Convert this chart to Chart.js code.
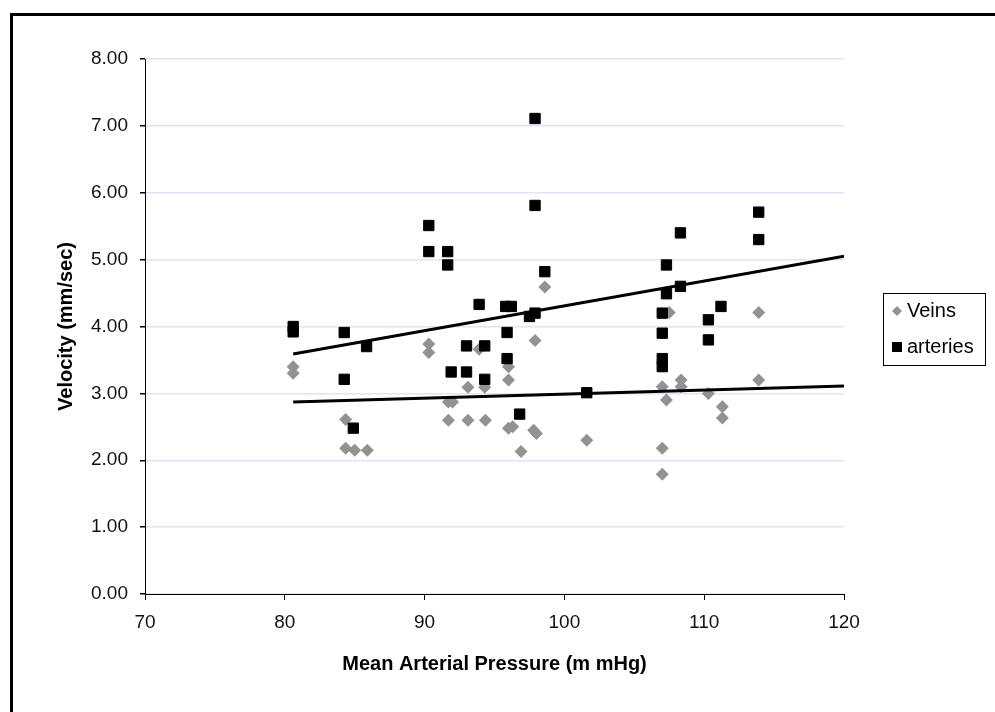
<!DOCTYPE html>
<html>
<head>
<meta charset="utf-8">
<title>Velocity vs Mean Arterial Pressure</title>
<script src="https://cdn.jsdelivr.net/npm/chart.js@4.4.1/dist/chart.umd.min.js"></script>
<style>
    html, body { margin: 0; padding: 0; background: #fff; }
    #wrap { position: relative; width: 995px; height: 712px; overflow: hidden; }
    #frame {
        position: absolute; left: 10px; top: 13px; width: 1000px; height: 720px;
        border-top: 3px solid #000; border-left: 3px solid #000;
    }
    #chart { position: absolute; left: 0; top: 0; }
</style>
</head>
<body>
<div id="wrap">
    <div id="frame"></div>
    <canvas id="chart" width="995" height="712"></canvas>
</div>
<script>
// Dados
const veinsX = [80.6, 80.6, 84.35, 84.35, 85.0, 85.9, 90.3, 90.3, 91.7, 92.0, 91.7, 93.1, 93.1, 93.9, 94.3, 94.35,
    96.0, 96.0, 96.0, 96.3, 96.9, 97.8, 98.0, 97.9, 98.6, 101.6, 107.0, 107.3, 107.0, 107.0, 107.5,
    108.35, 108.35, 110.3, 111.3, 111.3, 113.9, 113.9];
const veinsY = [3.40, 3.30, 2.61, 2.18, 2.15, 2.15, 3.74, 3.61, 2.87, 2.87, 2.60, 3.09, 2.60, 3.66, 3.09, 2.60,
    3.40, 3.20, 2.48, 2.50, 2.13, 2.45, 2.40, 3.79, 4.59, 2.30, 3.10, 2.90, 2.18, 1.79, 4.21,
    3.20, 3.10, 3.00, 2.80, 2.63, 4.21, 3.20];

const arteriesX = [80.6, 80.6, 84.25, 84.25, 84.9, 85.85, 90.3, 90.3, 91.65, 91.65, 91.9, 93.0, 93.0, 93.9, 94.3, 94.3,
    95.8, 96.2, 95.9, 95.9, 96.8, 97.5, 97.9, 97.9, 97.9, 98.6, 101.6, 107.0, 107.0, 107.0, 107.0,
    107.3, 107.3, 108.3, 108.3, 110.3, 110.3, 111.2, 113.9, 113.9];
const arteriesY = [4.00, 3.92, 3.91, 3.21, 2.48, 3.70, 5.51, 5.12, 5.12, 4.92, 3.32, 3.71, 3.32, 4.33, 3.71, 3.21,
    4.30, 4.30, 3.91, 3.52, 2.69, 4.15, 4.20, 5.81, 7.11, 4.82, 3.01, 4.20, 3.90, 3.52, 3.40,
    4.92, 4.49, 5.40, 4.60, 4.10, 3.80, 4.30, 5.71, 5.30];

// Linhas de tendência (extremos)
const trendX = [80.6, 120];
const veinsTrendY = [2.87, 3.11];
const arteriesTrendY = [3.59, 5.05];

const xMin = 70, xMax = 120, xStep = 10;
const yMin = 0, yMax = 8, yStep = 1;

const VEIN_COLOR = '#929292';
const GRID_COLOR = '#e2e2f8';
const FONT = '"Liberation Sans", Arial, sans-serif';

function toPoints(xs, ys) {
    return xs.map((x, i) => ({ x: x, y: ys[i] }));
}

// Legenda desenhada à mão, com caixa
const legendBox = {
    id: 'legendBox',
    afterDraw(chart) {
        const ctx = chart.ctx;
        ctx.save();
        ctx.strokeStyle = '#000';
        ctx.lineWidth = 1;
        ctx.strokeRect(883.5, 293.5, 102, 72);

        ctx.fillStyle = VEIN_COLOR;
        ctx.beginPath();
        ctx.moveTo(892, 311);
        ctx.lineTo(897, 306);
        ctx.lineTo(902, 311);
        ctx.lineTo(897, 316);
        ctx.closePath();
        ctx.fill();

        ctx.fillStyle = '#000';
        ctx.fillRect(892, 342, 10, 10);

        ctx.font = '20px ' + FONT;
        ctx.textBaseline = 'middle';
        ctx.fillText('Veins', 907, 311);
        ctx.fillText('arteries', 907, 347);
        ctx.restore();
    }
};

const ctx = document.getElementById('chart').getContext('2d');
new Chart(ctx, {
    type: 'scatter',
    data: {
        datasets: [
            {
                label: 'Veins trend',
                data: toPoints(trendX, veinsTrendY),
                showLine: true,
                borderColor: '#000',
                borderWidth: 3,
                pointRadius: 0,
                order: 0
            },
            {
                label: 'arteries trend',
                data: toPoints(trendX, arteriesTrendY),
                showLine: true,
                borderColor: '#000',
                borderWidth: 3,
                pointRadius: 0,
                order: 0
            },
            {
                label: 'Veins',
                data: toPoints(veinsX, veinsY),
                pointStyle: 'rectRot',
                pointRadius: 6.5,
                backgroundColor: VEIN_COLOR,
                borderColor: VEIN_COLOR,
                borderWidth: 0,
                order: 2
            },
            {
                label: 'arteries',
                data: toPoints(arteriesX, arteriesY),
                pointStyle: 'rect',
                pointRadius: 7.3,
                backgroundColor: '#000',
                borderColor: '#000',
                borderWidth: 1,
                order: 1
            }
        ]
    },
    options: {
        responsive: false,
        animation: false,
        events: [],
        layout: {
            padding: { top: 59, right: 151, left: 0, bottom: 0 }
        },
        plugins: {
            legend: { display: false },
            tooltip: { enabled: false }
        },
        scales: {
            x: {
                type: 'linear',
                min: xMin,
                max: xMax,
                afterFit(scale) { scale.height = 118; },
                border: { color: '#000', width: 1 },
                grid: {
                    drawOnChartArea: false,
                    tickColor: '#000',
                    tickLength: 6
                },
                ticks: {
                    stepSize: xStep,
                    color: '#111',
                    padding: 11,
                    font: { family: FONT, size: 19 }
                },
                title: {
                    display: true,
                    text: 'Mean Arterial Pressure (m mHg)',
                    color: '#000',
                    padding: { top: 0, bottom: 36 },
                    font: { family: FONT, size: 20, weight: 'bold' }
                }
            },
            y: {
                type: 'linear',
                min: yMin,
                max: yMax,
                afterFit(scale) { scale.width = 145; },
                border: { color: '#000', width: 1 },
                grid: {
                    color: GRID_COLOR,
                    lineWidth: 1.5,
                    tickColor: '#000',
                    tickLength: 5
                },
                ticks: {
                    stepSize: yStep,
                    color: '#111',
                    padding: 12,
                    callback: v => Number(v).toFixed(2),
                    font: { family: FONT, size: 19 }
                },
                title: {
                    display: true,
                    text: 'Velocity (mm/sec)',
                    color: '#000',
                    padding: { top: 54, bottom: 0 },
                    font: { family: FONT, size: 20, weight: 'bold' }
                }
            }
        }
    },
    plugins: [legendBox]
});
</script>
</body>
</html>
